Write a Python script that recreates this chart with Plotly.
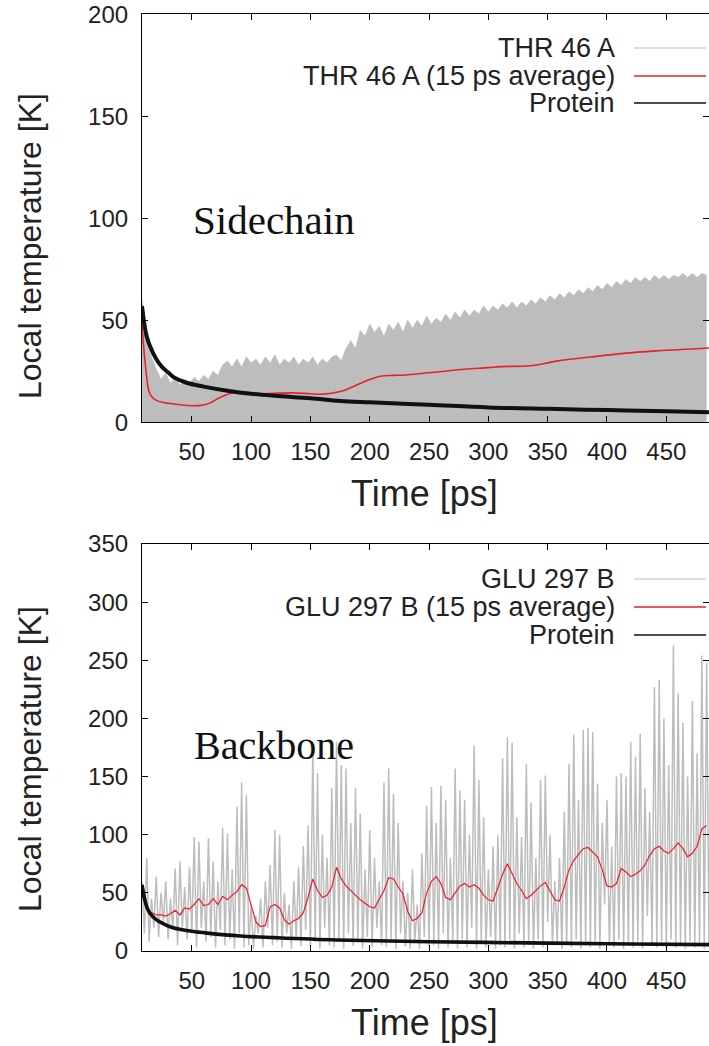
import plotly.graph_objects as go

W, H = 709, 1046

# ---------------- data: top panel (sidechain, THR 46 A) ----------------
thr_t0, thr_step = 8, 4  # ps, sampling of the raw-trace envelope
thr_raw_peaks = [
    60, 45, 32, 26, 21, 24, 19, 22, 18, 21,
    19, 22, 20, 23, 21, 25, 23, 28, 30, 27,
    31, 27, 32, 29, 31, 28, 32, 29, 33, 28,
    31, 29, 32, 28, 31, 29, 32, 28, 31, 29,
    32, 33, 30, 36, 40, 36, 45, 42, 48, 44,
    47, 42, 48, 45, 49, 44, 50, 46, 50, 47,
    52, 48, 51, 49, 53, 50, 54, 51, 55, 52,
    55, 53, 57, 54, 57, 55, 58, 56, 59, 56,
    59, 57, 60, 58, 61, 59, 62, 60, 63, 61,
    64, 62, 65, 63, 66, 64, 67, 65, 68, 66,
    69, 67, 70, 68, 71, 69, 71, 69, 72, 70,
    72, 70, 72, 71, 73, 71, 73, 71, 73, 72,
]
thr_avg_t = [8, 10, 12, 14, 17, 21, 30, 40, 50, 60, 65, 75, 85, 95, 105, 120, 135, 150,
             160, 170, 180, 190, 200, 210, 220, 230, 250, 280, 300, 310, 335, 358, 386,
             414, 442, 486]
thr_avg = [48, 33, 22, 15, 12, 10.5, 9.3, 8.6, 8.1, 8.5, 9.4, 12.5, 14.5, 14.5, 14, 14.2,
           14.4, 14, 13.8, 14.5, 16, 18.5, 21, 22.7, 23, 23.2, 24.3, 26, 26.8, 27.3, 27.7,
           30, 32, 33.8, 35, 36.4]
prot_top_t = [8, 10, 12, 15, 20, 25, 30, 35, 45, 60, 80, 100, 120, 150, 175, 200, 250,
              300, 350, 400, 450, 486]
prot_top = [57, 48, 42, 37, 31, 27, 24.5, 22, 19.5, 17.5, 15.5, 14, 13, 11.8, 10.5, 9.8,
            8.6, 7.3, 6.6, 6.0, 5.4, 4.9]

# ---------------- data: bottom panel (backbone, GLU 297 B) ----------------
glu_t0, glu_step = 8, 4  # peaks at t0 + k*step, troughs half a step later
glu_peaks = [
    60, 80, 45, 64, 50, 60, 45, 71, 77, 55,
    72, 98, 94, 60, 97, 77, 60, 106, 101, 70,
    124, 145, 134, 40, 30, 45, 60, 74, 104, 100,
    50, 40, 60, 72, 90, 108, 175, 153, 100, 80,
    140, 180, 160, 157, 110, 140, 118, 70, 104, 80,
    60, 145, 157, 135, 110, 60, 50, 70, 40, 84,
    125, 141, 110, 142, 130, 80, 157, 138, 130, 100,
    177, 147, 115, 70, 90, 100, 166, 184, 179, 115,
    98, 161, 128, 80, 147, 151, 100, 60, 80, 120,
    161, 186, 130, 190, 192, 188, 144, 110, 130, 90,
    150, 153, 150, 180, 167, 187, 140, 120, 227, 233,
    200, 160, 263, 222, 196, 150, 215, 170, 254, 248,
]
glu_troughs = [
    15, 8, 20, 12, 25, 10, 18, 5, 20, 10,
    15, 3, 20, 8, 12, 3, 18, 5, 10, 2,
    15, 3, 5, 2, 15, 3, 20, 5, 8, 3,
    15, 2, 10, 4, 18, 3, 8, 2, 20, 5,
    3, 10, 2, 15, 4, 8, 2, 12, 3, 20,
    5, 3, 10, 2, 15, 4, 2, 8, 2, 12,
    3, 5, 2, 15, 3, 8, 2, 10, 3, 20,
    2, 8, 3, 12, 2, 5, 3, 10, 2, 15,
    3, 5, 2, 10, 3, 25, 5, 8, 2, 5,
    3, 10, 2, 5, 3, 8, 2, 40, 5, 3,
    10, 2, 5, 3, 8, 2, 30, 5, 3, 8,
    2, 10, 3, 5, 2, 8, 3, 5, 2, 6,
]
glu_avg_t0, glu_avg_step = 8, 4
glu_avg = [
    48, 36, 33, 31, 31, 30, 32, 35, 31, 37,
    36, 40, 45, 39, 40, 45, 40, 47, 44, 48,
    51, 57, 54, 40, 25, 21, 22, 38, 40, 37,
    27, 23, 26, 28, 33, 46, 62, 52, 46, 48,
    55, 72, 62, 56, 52, 48, 44, 41, 38, 37,
    44, 52, 63, 62, 55, 49, 34, 26, 28, 33,
    50, 60, 64, 58, 46, 44, 50, 56, 58, 55,
    57, 54, 48, 44, 43, 55, 66, 75, 66, 58,
    52, 45, 48, 52, 56, 59, 52, 44, 43, 55,
    70, 78, 83, 88, 89, 85, 81, 70, 56, 55,
    58, 71, 68, 64, 66, 69, 74, 82, 88, 90,
    86, 84, 88, 93, 88, 81, 84, 90, 105, 108,
]
prot_bot_t = [8, 10, 12, 15, 20, 25, 35, 50, 63, 91, 120, 172, 250, 350, 420, 486]
prot_bot = [57, 46, 38, 32, 27, 24, 19.7, 17, 15.4, 12.9, 11.5, 9.5, 8, 6.8, 6.0, 5.5]

x_ticks = [50, 100, 150, 200, 250, 300, 350, 400, 450]
y_ticks_top = [0, 50, 100, 150, 200]
y_ticks_bot = [0, 50, 100, 150, 200, 250, 300, 350]

GRAY = "#bdbdbd"
RED = "#e8202a"
BLACK = "#111111"

thr_raw_t = [thr_t0 + k * thr_step for k in range(len(thr_raw_peaks))]
glu_t, glu_v = [], []
for k, (p, q) in enumerate(zip(glu_peaks, glu_troughs)):
    glu_t += [glu_t0 + k * glu_step, glu_t0 + k * glu_step + glu_step / 2]
    glu_v += [p, q]
glu_avg_times = [glu_avg_t0 + k * glu_avg_step for k in range(len(glu_avg))]

fig = go.Figure()
# top panel
fig.add_trace(go.Scatter(x=thr_raw_t, y=thr_raw_peaks, mode="lines", fill="tozeroy",
                         fillcolor=GRAY, line=dict(color=GRAY, width=0.8),
                         xaxis="x", yaxis="y", showlegend=False))
fig.add_trace(go.Scatter(x=thr_avg_t, y=thr_avg, mode="lines", line=dict(color=RED, width=1.6, shape="spline"),
                         xaxis="x", yaxis="y", showlegend=False))
fig.add_trace(go.Scatter(x=prot_top_t, y=prot_top, mode="lines", line=dict(color=BLACK, width=4, shape="spline"),
                         xaxis="x", yaxis="y", showlegend=False))
# bottom panel
fig.add_trace(go.Scatter(x=glu_t, y=glu_v, mode="lines", line=dict(color=GRAY, width=1.5),
                         xaxis="x2", yaxis="y2", showlegend=False))
fig.add_trace(go.Scatter(x=glu_avg_times, y=glu_avg, mode="lines", line=dict(color=RED, width=1.2),
                         xaxis="x2", yaxis="y2", showlegend=False))
fig.add_trace(go.Scatter(x=prot_bot_t, y=prot_bot, mode="lines", line=dict(color=BLACK, width=3.6, shape="spline"),
                         xaxis="x2", yaxis="y2", showlegend=False))

def px(x):
    return x / W

def py(y):
    return 1 - y / H

tickfont = dict(family="Liberation Sans, Arial, sans-serif", size=24, color="#222")
axcommon = dict(showline=True, linecolor="black", linewidth=1.2, mirror="ticks",
                ticks="inside", ticklen=6, tickcolor="black", showgrid=False,
                zeroline=False, tickfont=tickfont, automargin=False)

x_dom = [px(142), 1.0]
fig.update_layout(
    width=W, height=H, margin=dict(l=0, r=0, t=0, b=0),
    paper_bgcolor="white", plot_bgcolor="white",
    xaxis=dict(domain=x_dom, range=[8, 486], tickvals=x_ticks, anchor="y",
               ticklabelstandoff=8, **axcommon),
    yaxis=dict(domain=[py(422.3), py(14.3)], range=[0, 200], tickvals=y_ticks_top,
               anchor="x", ticklabelstandoff=8, **axcommon),
    xaxis2=dict(domain=x_dom, range=[8, 486], tickvals=x_ticks, anchor="y2",
                ticklabelstandoff=8, **axcommon),
    yaxis2=dict(domain=[py(951), py(544)], range=[0, 350], tickvals=y_ticks_bot,
                anchor="x2", ticklabelstandoff=8, **axcommon),
)

sans = "Liberation Sans, Arial, sans-serif"
serif = "Liberation Serif, Times New Roman, serif"
ann = []
# axis titles
for yc in (493, 1022):
    ann.append(dict(x=px(425), y=py(yc), xref="paper", yref="paper", text="Time [ps]",
                    showarrow=False, font=dict(family=sans, size=36, color="#222"),
                    xanchor="center", yanchor="middle"))
for yc in (246, 759):
    ann.append(dict(x=px(30), y=py(yc), xref="paper", yref="paper", text="Local temperature [K]",
                    showarrow=False, textangle=-90, font=dict(family=sans, size=32, color="#222"),
                    xanchor="center", yanchor="middle"))
# panel labels
ann.append(dict(x=px(191), y=py(220), xref="paper", yref="paper", text="Sidechain", showarrow=False,
                font=dict(family=serif, size=41, color="#111"), xanchor="left", yanchor="middle"))
ann.append(dict(x=px(192), y=py(745), xref="paper", yref="paper", text="Backbone", showarrow=False,
                font=dict(family=serif, size=40, color="#111"), xanchor="left", yanchor="middle"))

shapes = []
legends = [
    ([48, 76, 103], ["THR 46 A", "THR 46 A (15 ps average)", "Protein"]),
    ([579, 607, 635], ["GLU 297 B", "GLU 297 B (15 ps average)", "Protein"]),
]
for rows, labels in legends:
    for yr, lab, col, wd in zip(rows, labels, [GRAY, RED, BLACK], [1.2, 1.4, 1.4]):
        ann.append(dict(x=px(617), y=py(yr), xref="paper", yref="paper", text=lab, showarrow=False,
                        font=dict(family=sans, size=27, color="#222"), xanchor="right", yanchor="middle"))
        shapes.append(dict(type="line", xref="paper", yref="paper", x0=px(634), x1=px(706),
                           y0=py(yr), y1=py(yr), line=dict(color=col, width=wd)))

fig.update_layout(annotations=ann, shapes=shapes)
fig.write_html("out.html")
